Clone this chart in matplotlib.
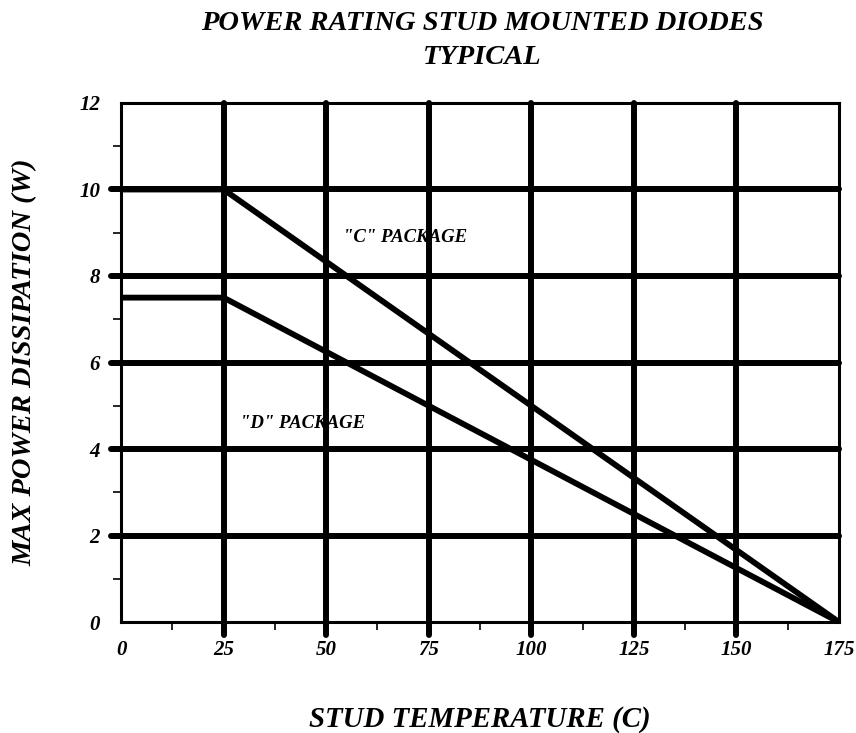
import matplotlib
matplotlib.use("Agg")
import matplotlib.pyplot as plt

# data
temp_c = [0, 25, 175]
c_package = [10, 10, 0]
d_package = [7.5, 7.5, 0]

x_major = [0, 25, 50, 75, 100, 125, 150, 175]
x_minor = [12.5, 37.5, 62.5, 87.5, 112.5, 137.5, 162.5]
y_major = [0, 2, 4, 6, 8, 10, 12]
y_minor = [1, 3, 5, 7, 9, 11]

font = dict(family="Liberation Serif", weight="bold", style="italic")

fig = plt.figure(figsize=(8.56, 7.33), dpi=100)
ax = fig.add_axes([0.1414, 0.1514, 0.8386, 0.7081])
ax.set_xlim(0, 175)
ax.set_ylim(0, 12)

# heavy grid lines, sticking out past the frame a bit
for x in x_major[1:-1]:
    ax.plot([x, x], [-0.3, 12], color="black", lw=4.3, solid_capstyle="round",
            clip_on=False, zorder=2)
for y in y_major[1:-1]:
    ax.plot([-2.5, 175], [y, y], color="black", lw=4.3, solid_capstyle="round",
            clip_on=False, zorder=2)

ax.plot(temp_c, c_package, color="black", lw=4.2, solid_joinstyle="miter", zorder=3)
ax.plot(temp_c, d_package, color="black", lw=4.2, solid_joinstyle="miter", zorder=3)

ax.text(54, 8.9, '"C" PACKAGE', fontsize=13.5, va="center", ha="left", **font)
ax.text(29, 4.6, '"D" PACKAGE', fontsize=13.5, va="center", ha="left", **font)

for s in ax.spines.values():
    s.set_linewidth(2.2)

ax.set_xticks(x_major)
ax.set_xticks(x_minor, minor=True)
ax.set_yticks(y_major)
ax.set_yticks(y_minor, minor=True)
ax.tick_params(which="major", length=0)
ax.tick_params(axis="x", which="major", pad=13)
ax.tick_params(axis="y", which="major", pad=15)
ax.tick_params(which="minor", length=6, width=1.2, direction="out")
for lab in ax.get_xticklabels() + ax.get_yticklabels():
    lab.set_fontfamily("Liberation Serif")
    lab.set_fontweight("bold")
    lab.set_fontstyle("italic")
    lab.set_fontsize(15)

ax.set_xlabel("STUD TEMPERATURE (C)", fontsize=20.8, labelpad=33, **font)
ax.set_ylabel("MAX POWER DISSIPATION (W)", fontsize=20.5, labelpad=30, **font)

fig.text(0.563, 0.968, "POWER RATING STUD MOUNTED DIODES", fontsize=20.5,
         ha="center", va="center", **font)
fig.text(0.563, 0.921, "TYPICAL", fontsize=20.5, ha="center", va="center", **font)

fig.savefig("out.png", dpi=100)
